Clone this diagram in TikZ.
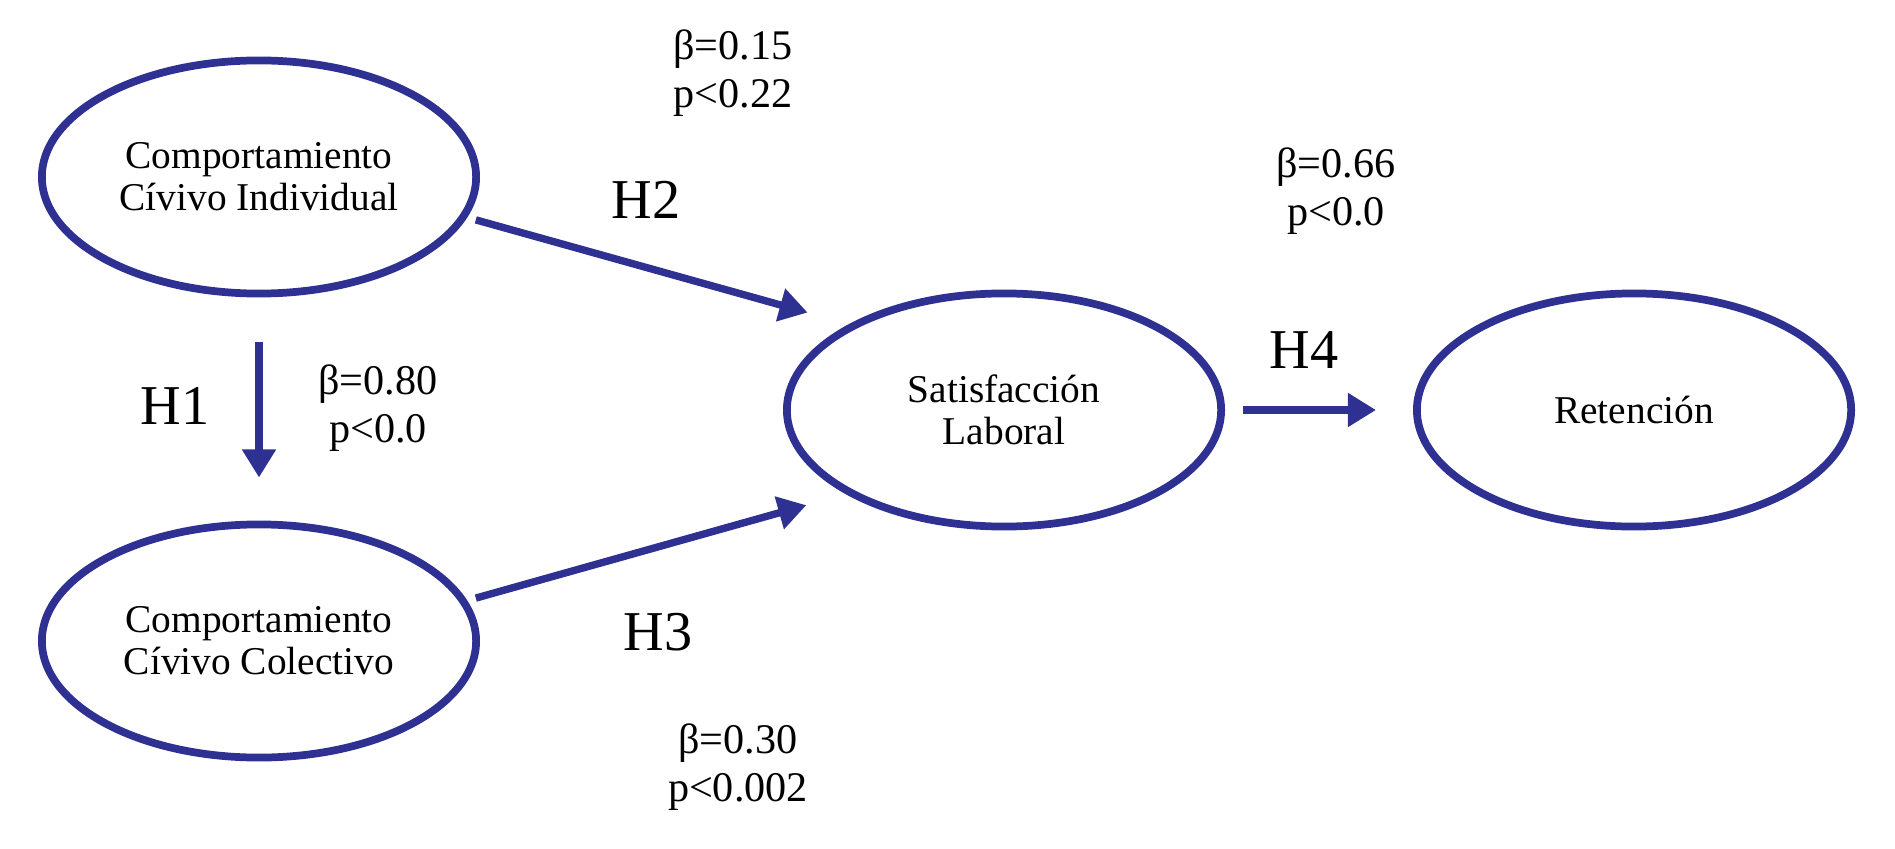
\documentclass[tikz,border=0pt]{standalone}
\usepackage{fontspec}
\setmainfont{Liberation Serif}
\usetikzlibrary{shapes.geometric,arrows.meta}
\definecolor{pathblue}{RGB}{46,49,146}

\begin{document}
\begin{tikzpicture}[x=0.01cm,y=-0.01cm,
    cons/.style={ellipse,draw=pathblue,line width=2.2pt,minimum width=4.34cm,minimum height=2.33cm,
      align=center,font=\fontsize{11.2}{11.9}\selectfont},
    arr/.style={pathblue,line width=2.1pt,-{Triangle[length=8pt,width=9.2pt]}},
    hyp/.style={font=\fontsize{16}{18}\selectfont},
    stat/.style={align=center,font=\fontsize{12}{13.7}\selectfont}]
  \useasboundingbox (0,0) rectangle (1895,849);
  % the constructs
  \node[cons] (cci) at (259,177) {Comportamiento\\Cívivo Individual};
  \node[cons] (ccc) at (259,641) {Comportamiento\\Cívivo Colectivo};
  \node[cons] (sat) at (1004,410) {Satisfacción\\Laboral};
  \node[cons] (ret) at (1634,410) {Retención};
  % the paths
  \draw[arr,shorten <=0.45cm,shorten >=0.43cm] (cci.south) -- (ccc.north);
  \draw[arr,shorten <=0.09cm,shorten >=0.43cm] (cci.-11) -- (sat.151);
  \draw[arr,shorten <=0.09cm,shorten >=0.41cm] (ccc.11) -- (sat.208);
  \draw[arr,shorten <=0.18cm,shorten >=0.37cm] (sat.east) -- (ret.west);
  % hypotheses and estimates
  \foreach \i/\x/\y in {1/175/406, 2/646/200, 3/658/632, 4/1304/350}
    \node[hyp] (h\i) at (\x,\y) {H\i};
  \foreach \i/\x/\y/\b/\p in {1/378/408/0.80/0.0, 2/733/73/0.15/0.22, 3/738/767/0.30/0.002, 4/1336/191/0.66/0.0}
    \node[stat] (e\i) at (\x,\y) {β=\b\\p<\p};
\end{tikzpicture}
\end{document}
